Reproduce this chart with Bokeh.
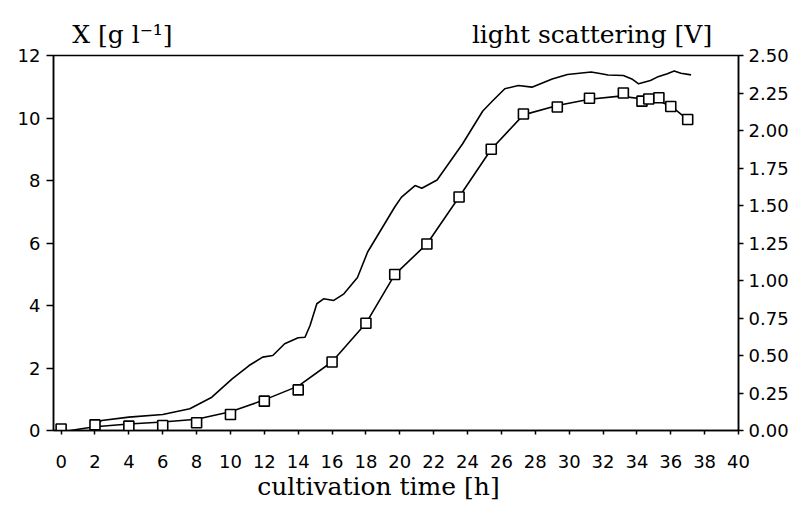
from bokeh.plotting import figure
from bokeh.models import Range1d, LinearAxis, FixedTicker, NumeralTickFormatter, ColumnDataSource
from bokeh.embed import file_html
from bokeh.resources import INLINE

# ---- data ----
sample_t = [0, 2, 4, 6, 8, 10, 12, 14, 16, 18, 19.7, 21.6, 23.5, 25.4, 27.3,
            29.3, 31.2, 33.2, 34.3, 34.7, 35.3, 36.0, 37.0]
biomass = [0.05, 0.18, 0.14, 0.16, 0.25, 0.51, 0.94, 1.3, 2.19, 3.43, 4.99,
           5.97, 7.47, 9.0, 10.13, 10.35, 10.63, 10.8, 10.54, 10.61, 10.65, 10.37, 9.95]

fit_t = [0, 1, 2, 4, 6, 8, 10, 12, 14, 16, 18, 19.7, 21.6, 23.5, 25.4, 27.3,
         29.3, 31.2, 33.0, 34.5, 35.5, 36.2, 37.0]
fit_x = [-0.06, 0.04, 0.12, 0.21, 0.27, 0.36, 0.6, 0.98, 1.42, 2.2, 3.43, 4.99,
         5.97, 7.47, 9.0, 10.1, 10.4, 10.6, 10.7, 10.6, 10.5, 10.3, 9.95]

ls_t = [2.2, 2.4, 4.0, 6.0, 7.6, 8.9, 10.1, 11.1, 11.9, 12.5, 13.2, 14.0, 14.4,
        14.7, 15.1, 15.5, 16.1, 16.7, 17.5, 18.1, 19.7, 20.1, 20.9, 21.3, 22.2,
        23.7, 24.9, 25.5, 26.2, 27.0, 27.8, 29.0, 29.9, 31.3, 31.9, 32.3, 33.2,
        33.7, 34.1, 34.8, 35.2, 35.8, 36.2, 36.6, 37.2]
ls_v = [0.05, 0.067, 0.089, 0.107, 0.145, 0.222, 0.344, 0.433, 0.489, 0.5, 0.578,
        0.618, 0.622, 0.70, 0.845, 0.878, 0.867, 0.911, 1.02, 1.19, 1.49, 1.556,
        1.633, 1.615, 1.67, 1.91, 2.13, 2.2, 2.278, 2.3, 2.289, 2.344, 2.373, 2.39,
        2.378, 2.37, 2.367, 2.344, 2.311, 2.333, 2.356, 2.378, 2.396, 2.382, 2.371]

x_ticks = list(range(0, 41, 2))
left_ticks = list(range(0, 13, 2))
right_ticks = [0, 0.25, 0.5, 0.75, 1.0, 1.25, 1.5, 1.75, 2.0, 2.25, 2.5]

x_title = "cultivation time [h]"
left_title = "X [g l\u207b\u00b9]"
right_title = "light scattering [V]"
# horizontal anchor (in hours) of the title texts
x_title_at = 18.74
left_title_at = 3.62
right_title_at = 31.35

TICK_FONT = "DejaVu Sans"
TITLE_FONT = "DejaVu Serif"

p = figure(width=802, height=507, output_backend="svg", toolbar_location=None,
           x_range=Range1d(-0.45, 40), y_range=Range1d(0, 12),
           min_border_left=53, min_border_right=64, min_border_top=55,
           min_border_bottom=77)
p.extra_y_ranges = {"ls": Range1d(0, 2.5)}
p.grid.visible = False
p.outline_line_color = "black"
p.outline_line_width = 1.5
p.outline_line_alpha = 1.0
p.background_fill_color = "white"
p.border_fill_color = "white"

def style_axis(ax, tick_out, standoff, font=TICK_FONT, size="18px"):
    ax.axis_line_color = "black"
    ax.axis_line_width = 1.5
    ax.major_tick_line_color = "black"
    ax.major_tick_line_width = 1.5
    ax.major_tick_in = 0
    ax.major_tick_out = tick_out
    ax.minor_tick_in = 0
    ax.minor_tick_out = 0
    ax.major_label_text_font = font
    ax.major_label_text_font_size = size
    ax.major_label_text_color = "black"
    ax.major_label_standoff = standoff

xa = p.xaxis[0]
xa.ticker = FixedTicker(ticks=x_ticks)
style_axis(xa, 4, 20)

ya = p.yaxis[0]
ya.ticker = FixedTicker(ticks=left_ticks)
style_axis(ya, 7, 6)

ra = LinearAxis(y_range_name="ls", ticker=FixedTicker(ticks=right_ticks),
                formatter=NumeralTickFormatter(format="0.00"))
style_axis(ra, 5, 5)
p.add_layout(ra, "right")

# title texts as tick labels of bare axes
def title_axis(ticks, texts, standoff):
    ax = LinearAxis(ticker=FixedTicker(ticks=ticks),
                    major_label_overrides={t: s for t, s in zip(ticks, texts)})
    style_axis(ax, 0, standoff, font=TITLE_FONT, size="25px")
    ax.axis_line_color = None
    ax.major_tick_line_color = None
    ax.minor_tick_line_color = None
    return ax

p.add_layout(title_axis([left_title_at, right_title_at], [left_title, right_title], 7), "above")
p.add_layout(title_axis([x_title_at], [x_title], 1), "below")

src_ls = ColumnDataSource(dict(t=ls_t, v=ls_v))
p.line("t", "v", source=src_ls, y_range_name="ls", line_color="black", line_width=1.6)

src_fit = ColumnDataSource(dict(t=fit_t, x=fit_x))
p.line("t", "x", source=src_fit, line_color="black", line_width=1.6)

src_pts = ColumnDataSource(dict(t=sample_t, x=biomass))
p.scatter("t", "x", source=src_pts, marker="square", size=10,
          fill_color="white", line_color="black", line_width=1.6)

open("out.html", "w").write(file_html(p, INLINE))
